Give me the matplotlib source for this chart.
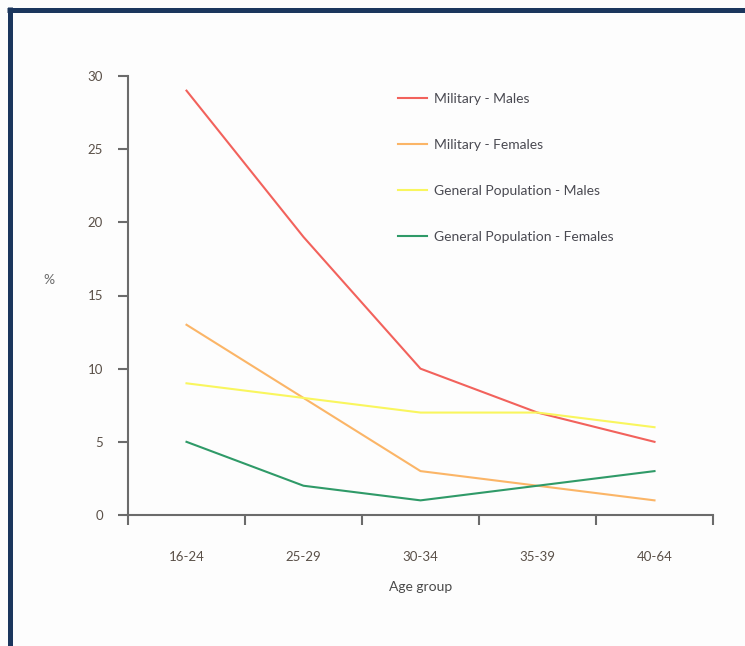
import matplotlib
matplotlib.use("Agg")
import matplotlib.pyplot as plt
from matplotlib.lines import Line2D

categories = ["16-24", "25-29", "30-34", "35-39", "40-64"]
military_males = [29, 19, 10, 7, 5]
military_females = [13, 8, 3, 2, 1]
general_males = [9, 8, 7, 7, 6]
general_females = [5, 2, 1, 2, 3]
series_names = ["Military - Males", "Military - Females",
                "General Population - Males", "General Population - Females"]
colors = ["#f2625c", "#fbb567", "#f9f65e", "#2f9a68"]
yticks = [0, 5, 10, 15, 20, 25, 30]

plt.rcParams['font.family'] = ['Lato', 'DejaVu Sans']

fig = plt.figure(figsize=(7.45, 6.46), dpi=100)
fig.patch.set_facecolor("#fdfdfd")

# navy frame (left and top)
navy = "#1b365d"
fig.add_artist(Line2D([9.5/745, 9.5/745], [0, 1 - 7/646], transform=fig.transFigure,
                      color=navy, lw=3.6, solid_capstyle='butt'))
fig.add_artist(Line2D([7.5/745, 1], [1 - 9.5/646, 1 - 9.5/646], transform=fig.transFigure,
                      color=navy, lw=3.6, solid_capstyle='butt'))

ax = fig.add_axes([128/745, 1 - 515/646, (713 - 128)/745, (515 - 76)/646])
ax.set_facecolor("none")

xs = [i + 0.5 for i in range(len(categories))]
all_series = [military_males, military_females, general_males, general_females]
for vals, name, c in zip(all_series, series_names, colors):
    ax.plot(xs, vals, color=c, lw=1.5, label=name)

ax.set_xlim(0, len(categories))
ax.set_ylim(0, 30)
ax.set_xticks(range(len(categories) + 1))
ax.set_xticklabels([])
ax.set_xticks(xs, minor=True)
ax.set_xticklabels(categories, minor=True)
ax.set_yticks(yticks)
ax.set_yticklabels([str(v) for v in yticks])

spine_c = "#6b6b6b"
for s in ["top", "right"]:
    ax.spines[s].set_visible(False)
for s in ["left", "bottom"]:
    ax.spines[s].set_color(spine_c)
    ax.spines[s].set_linewidth(1.5)
ax.tick_params(axis='both', which='major', color=spine_c, width=1.5, length=7,
               labelsize=9.5, labelcolor="#5a5048")
ax.tick_params(axis='x', which='minor', length=0, pad=26, labelsize=9.5,
               labelcolor="#5a5048")
ax.tick_params(axis='y', pad=11)

ax.set_xlabel("Age group", fontsize=10, color="#4a4a4a", labelpad=13)
ax.text(-0.135, 0.535, "%", transform=ax.transAxes, fontsize=10, color="#6a6a6a",
        ha='center', va='center')

leg = ax.legend(loc='upper left', bbox_to_anchor=(0.44, 0.99), frameon=False,
                fontsize=10, labelspacing=2.45, handlelength=2.1, handletextpad=0.5)
for t in leg.get_texts():
    t.set_color("#4a4a52")

fig.savefig("out.png", dpi=100, facecolor=fig.get_facecolor())
